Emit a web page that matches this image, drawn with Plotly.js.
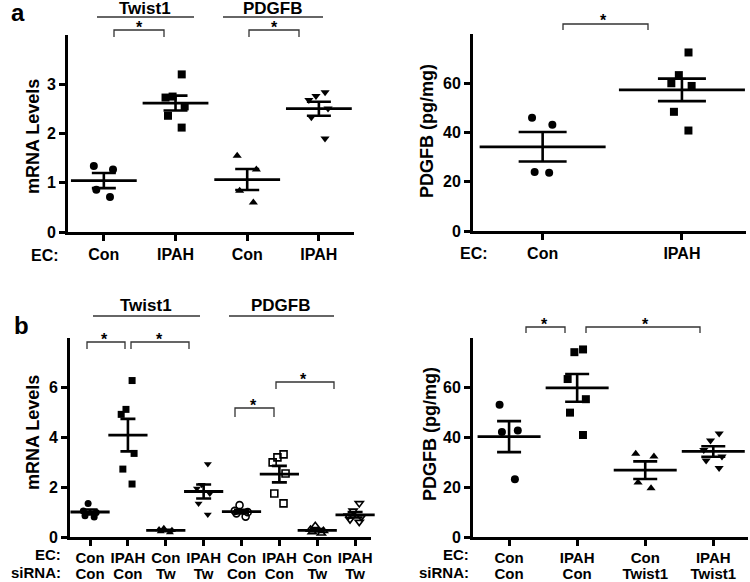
<!DOCTYPE html>
<html><head><meta charset="utf-8">
<script src="https://cdn.plot.ly/plotly-3.0.1.min.js"></script>
<style>html,body{margin:0;padding:0;background:#fff}#chart{width:750px;height:582px}</style>
</head><body><div id="chart"></div>
<script>
// ---- Panel a (left): mRNA levels ----
const aL_twist_con   = [1.34, 1.27, 0.86, 0.71];
const aL_twist_ipah  = [3.20, 2.73, 2.75, 2.55, 2.36, 2.12];
const aL_pdgfb_con   = [1.55, 1.27, 0.84, 0.60];
const aL_pdgfb_ipah  = [2.84, 2.76, 2.68, 2.51, 2.33, 1.90];
const aL_ticks = ['Con', 'IPAH', 'Con', 'IPAH'];
// ---- Panel a (right): PDGFB protein ----
const aR_con  = [46.0, 43.1, 23.7, 24.0];
const aR_ipah = [72.5, 63.3, 58.9, 60.0, 48.4, 40.8];
const aR_ticks = ['Con', 'IPAH'];
// ---- Panel b (left): mRNA levels after siRNA ----
const bL_twist_conCon  = [1.35, 1.05, 0.98, 0.85, 0.80];
const bL_twist_ipahCon = [6.29, 5.13, 4.93, 3.36, 2.73, 2.13];
const bL_twist_conTw   = [0.35, 0.30, 0.27, 0.22, 0.18];
const bL_twist_ipahTw  = [2.93, 2.10, 1.95, 1.75, 1.35, 0.90];
const bL_pdgfb_conCon  = [1.28, 1.05, 1.00, 0.95, 0.82];
const bL_pdgfb_ipahCon = [3.32, 3.20, 3.00, 2.55, 1.75, 1.35];
const bL_pdgfb_conTw   = [0.45, 0.30, 0.25, 0.20, 0.15];
const bL_pdgfb_ipahTw  = [1.35, 1.05, 0.85, 0.80, 0.70, 0.60];
const bL_ec = ['Con', 'IPAH', 'Con', 'IPAH', 'Con', 'IPAH', 'Con', 'IPAH'];
const bL_si = ['Con', 'Con', 'Tw', 'Tw', 'Con', 'Con', 'Tw', 'Tw'];
// ---- Panel b (right): PDGFB protein after siRNA ----
const bR_conCon  = [53.2, 42.8, 42.2, 23.2];
const bR_ipahCon = [74.3, 75.4, 63.5, 55.4, 50.0, 41.0];
const bR_conTw   = [33.5, 32.4, 21.9, 19.6];
const bR_ipahTw  = [41.6, 38.8, 35.0, 32.4, 30.8, 27.7];
const bR_ec = ['Con', 'IPAH', 'Con', 'IPAH'];
const bR_si = ['Con', 'Con', 'Twist1', 'Twist1'];

const FONT = 'Liberation Sans, Arial, Helvetica, sans-serif';
const W = 750, H = 582;
const px = v => v / W;
const py = v => 1 - v / H;
const mean = a => a.reduce((s, v) => s + v, 0) / a.length;
const sem = a => { const m = mean(a); return Math.sqrt(a.reduce((s, v) => s + (v - m) ** 2, 0) / (a.length - 1)) / Math.sqrt(a.length); };

const traces = [];
function pts(y, pos, ax, sym, size, jitter) {
  const open = sym.endsWith('-open');
  traces.push({
    type: 'box', y: y, x0: pos, xaxis: 'x' + ax, yaxis: 'y' + ax,
    boxpoints: 'all', jitter: jitter, pointpos: 0, width: 0.6,
    fillcolor: 'rgba(0,0,0,0)', line: {width: 0, color: 'rgba(0,0,0,0)'}, whiskerwidth: 0,
    marker: {symbol: sym, size: size, color: 'black', line: {color: 'black', width: open ? 1.6 : 0}},
    showlegend: false, hoverinfo: 'y'
  });
}
function meanSem(groups, ax, meanW, capHalf) {
  traces.push({
    type: 'scatter', mode: 'markers', xaxis: 'x' + ax, yaxis: 'y' + ax,
    x: groups.map((g, i) => i), y: groups.map(mean),
    marker: {symbol: 'line-ew', size: meanW, color: 'black', line: {width: 2.8, color: 'black'}},
    error_y: {type: 'data', array: groups.map(sem), visible: true, width: capHalf, thickness: 2.6, color: 'black'},
    showlegend: false, cliponaxis: false, hoverinfo: 'y'
  });
}

// panel a-left
const aL = [aL_twist_con, aL_twist_ipah, aL_pdgfb_con, aL_pdgfb_ipah];
['circle', 'square', 'triangle-up', 'triangle-down'].forEach((s, i) => pts(aL[i], i, '', s, 8, 0.55));
meanSem(aL, '', 47, 12);
// panel a-right
const aR = [aR_con, aR_ipah];
['circle', 'square'].forEach((s, i) => pts(aR[i], i, '2', s, 8, 0.3));
meanSem(aR, '2', 90, 24);
// panel b-left
const bL = [bL_twist_conCon, bL_twist_ipahCon, bL_twist_conTw, bL_twist_ipahTw,
            bL_pdgfb_conCon, bL_pdgfb_ipahCon, bL_pdgfb_conTw, bL_pdgfb_ipahTw];
['circle', 'square', 'triangle-up', 'triangle-down',
 'circle-open', 'square-open', 'triangle-up-open', 'triangle-down-open'].forEach((s, i) => pts(bL[i], i, '3', s, 7, 0.7));
meanSem(bL, '3', 28, 7.5);
// panel b-right
const bR = [bR_conCon, bR_ipahCon, bR_conTw, bR_ipahTw];
['circle', 'square', 'triangle-up', 'triangle-down'].forEach((s, i) => pts(bR[i], i, '4', s, 8, 0.55));
meanSem(bR, '4', 45, 12);
// empty traces that register the second-row label axes (siRNA row)
traces.push({type: 'scatter', mode: 'markers', x: [], y: [], xaxis: 'x5', yaxis: 'y3', showlegend: false, hoverinfo: 'skip'});
traces.push({type: 'scatter', mode: 'markers', x: [], y: [], xaxis: 'x6', yaxis: 'y4', showlegend: false, hoverinfo: 'skip'});

const tf = {family: FONT, size: 16, color: 'black', weight: 'bold'};
const tfb = {family: FONT, size: 15, color: 'black', weight: 'bold'};
function xa(x0, x1, y, range, ticktext, font, standoff) {
  const o = {domain: [px(x0), px(x1)], anchor: y, range: range, showline: true, linewidth: 3, linecolor: 'black',
    ticks: 'outside', ticklen: 6, tickwidth: 3, tickcolor: 'black', showgrid: false, zeroline: false,
    tickmode: 'array', tickvals: ticktext.map((t, i) => i), ticktext: ticktext, tickfont: font || tf, fixedrange: true};
  if (standoff !== undefined) o.ticklabelstandoff = standoff;
  return o;
}
// second row of category labels: an overlaying axis with invisible ticks, labels pushed one line lower
function xrow2(base, y, range, ticktext, standoff) {
  return {overlaying: base, anchor: y, range: range, showline: false,
    ticks: 'outside', ticklen: 6, tickwidth: 3, tickcolor: 'rgba(0,0,0,0)', showgrid: false, zeroline: false,
    tickmode: 'array', tickvals: ticktext.map((t, i) => i), ticktext: ticktext, tickfont: tfb,
    ticklabelstandoff: standoff, fixedrange: true};
}
function ya(yTop, yBot, x, range, tickvals) {
  return {domain: [py(yBot), py(yTop)], anchor: x, range: range, showline: true, linewidth: 3, linecolor: 'black',
    ticks: 'outside', ticklen: 6, tickwidth: 3, tickcolor: 'black', showgrid: false, zeroline: false,
    tickmode: 'array', tickvals: tickvals, tickfont: tf, fixedrange: true};
}

const ann = [];
function txt(t, x, y, size, opts) {
  ann.push(Object.assign({text: t, x: px(x), y: py(y), xref: 'paper', yref: 'paper', showarrow: false,
    xanchor: 'center', yanchor: 'middle', font: {family: FONT, size: size, color: 'black', weight: 'bold'}}, opts || {}));
}
const shapes = [];
function hline(x1, x2, y) {
  shapes.push({type: 'line', xref: 'paper', yref: 'paper', x0: px(x1), x1: px(x2), y0: py(y), y1: py(y), line: {color: '#333', width: 1.3}});
}
function bracket(x1, x2, y, drop) {
  shapes.push({type: 'path', xref: 'paper', yref: 'paper',
    path: `M ${px(x1)},${py(y + drop)} L ${px(x1)},${py(y)} L ${px(x2)},${py(y)} L ${px(x2)},${py(y + drop)}`,
    line: {color: '#333', width: 1.3}});
}

// panel labels
txt('a', 18, 12, 24);
txt('b', 21, 325, 24);
// y titles
txt('mRNA Levels', 33, 137, 18, {textangle: -90});
txt('PDGFB (pg/mg)', 427, 131, 18, {textangle: -90});
txt('mRNA Levels', 33, 433, 18, {textangle: -90});
txt('PDGFB (pg/mg)', 430, 434, 18, {textangle: -90});
// row labels
txt('EC:', 45, 255, 16);
txt('EC:', 474, 253, 16);
txt('EC:', 63, 554, 15, {xanchor: 'right'});
txt('siRNA:', 63, 572, 15, {xanchor: 'right'});
txt('EC:', 471, 554, 15, {xanchor: 'right'});
txt('siRNA:', 471, 572, 15, {xanchor: 'right'});
// headers
txt('Twist1', 145, 9, 17); hline(97, 194, 17);
txt('PDGFB', 273, 9, 17); hline(223, 323, 17);
txt('Twist1', 146, 305, 17); hline(93, 200, 316);
txt('PDGFB', 281, 305, 17); hline(229, 334, 316);
// significance brackets
bracket(114, 164, 30, 7); txt('*', 139, 27, 16);
bracket(249, 299, 30, 7); txt('*', 274, 27, 16);
bracket(563, 648, 24, 6); txt('*', 603, 21, 16);
bracket(87, 125, 342, 7); txt('*', 104, 339, 16);
bracket(131, 189, 342, 7); txt('*', 159, 339, 16);
bracket(235, 274, 408, 9); txt('*', 253, 405, 16);
bracket(276, 334, 382, 7); txt('*', 303, 379, 16);
bracket(526, 565, 327, 6); txt('*', 544, 324, 16);
bracket(586, 700, 327, 6); txt('*', 645, 324, 16);

const bLrange = [-0.53, 7.42], bRrange = [-0.53, 3.51];
const layout = {
  width: W, height: H, margin: {l: 0, r: 0, t: 0, b: 0},
  paper_bgcolor: 'white', plot_bgcolor: 'white', showlegend: false, boxmode: 'overlay',
  font: {family: FONT, color: 'black'},
  xaxis:  xa(68, 354, 'y',  [-0.5, 3.49], aL_ticks),
  yaxis:  ya(35, 232, 'x',  [0, 4], [0, 1, 2, 3]),
  xaxis2: xa(473, 746, 'y2', [-0.5, 1.46], aR_ticks),
  yaxis2: ya(34, 231, 'x2', [0, 80], [0, 20, 40, 60]),
  xaxis3: xa(70, 371, 'y3', bLrange, bL_ec, tfb, -1),
  yaxis3: ya(338, 537, 'x3', [0, 8], [0, 2, 4, 6]),
  xaxis4: xa(473, 748, 'y4', bRrange, bR_ec, tfb, -1),
  yaxis4: ya(338, 537, 'x4', [0, 80], [0, 20, 40, 60]),
  xaxis5: xrow2('x3', 'y3', bLrange, bL_si, 17),
  xaxis6: xrow2('x4', 'y4', bRrange, bR_si, 17),
  annotations: ann, shapes: shapes
};
Plotly.newPlot('chart', traces, layout, {staticPlot: true, displayModeBar: false});
</script>
</body></html>
